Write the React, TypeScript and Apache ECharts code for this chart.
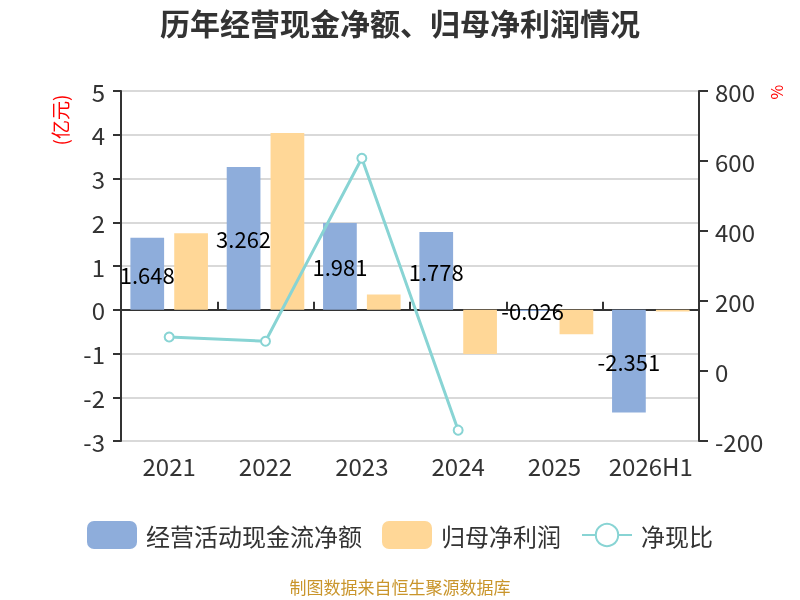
import * as echarts from 'echarts';
import { useEffect, useRef } from 'react';

const years = ['2021', '2022', '2023', '2024', '2025', '2026H1'];
const cashFlow = [1.648, 3.262, 1.981, 1.778, -0.026, -2.351];
const netProfit = [1.75, 4.04, 0.35, -1.01, -0.56, -0.04];
const cashRatio = [97, 85, 608, -169, null, null];

const FONT = 'Noto Sans CJK SC';

const App = () => {
  const chartRef = useRef(null);

  useEffect(() => {
    const chart = echarts.init(chartRef.current, null, { renderer: 'svg' });

    const option = {
      animation: false,
      textStyle: { fontFamily: FONT },
      title: {
        text: '历年经营现金净额、归母净利润情况',
        left: 'center',
        top: 2,
        textStyle: { fontSize: 30, fontWeight: 'bold', color: '#333', fontFamily: FONT },
      },
      legend: {
        bottom: 46,
        left: 'center',
        itemWidth: 50,
        itemHeight: 28,
        itemGap: 20,
        textStyle: { fontSize: 24, color: '#333', fontFamily: FONT, padding: [0, 0, 0, 4] },
        data: [
          { name: '经营活动现金流净额', icon: 'roundRect' },
          { name: '归母净利润', icon: 'roundRect' },
          { name: '净现比' },
        ],
      },
      graphic: [
        {
          type: 'text',
          left: 'center',
          bottom: 5,
          style: {
            text: '制图数据来自恒生聚源数据库',
            fontSize: 17,
            fill: '#c9952b',
            fontFamily: FONT,
          },
        },
        {
          type: 'text',
          x: 59,
          y: 120,
          rotation: Math.PI / 2,
          style: {
            text: '(亿元)',
            fontSize: 19,
            fill: '#ff0000',
            fontFamily: FONT,
            align: 'center',
            verticalAlign: 'middle',
          },
        },
        {
          type: 'text',
          x: 776,
          y: 92,
          rotation: Math.PI / 2,
          style: {
            text: '%',
            fontSize: 16,
            fill: '#ff0000',
            fontFamily: FONT,
            align: 'center',
            verticalAlign: 'middle',
          },
        },
      ],
      grid: { left: 121, right: 101, top: 91, bottom: 159 },
      xAxis: [
        {
          type: 'category',
          data: years,
          position: 'bottom',
          axisLine: { show: false, onZero: false },
          axisTick: { show: false },
          axisLabel: { fontSize: 24, color: '#333', margin: 12, interval: 0 },
        },
        {
          type: 'category',
          data: years,
          axisLine: { show: true, onZero: true, lineStyle: { color: '#333', width: 2 } },
          axisTick: { show: true, length: 8, lineStyle: { color: '#333', width: 2 } },
          axisLabel: { show: false },
        },
      ],
      yAxis: [
        {
          type: 'value',
          min: -3,
          max: 5,
          interval: 1,
          axisLine: { show: true, lineStyle: { color: '#333', width: 2 } },
          axisTick: { show: true, length: 8, lineStyle: { color: '#333', width: 2 } },
          axisLabel: { fontSize: 24, color: '#333', margin: 16 },
          splitLine: { lineStyle: { color: '#ccc', width: 1.5 } },
        },
        {
          type: 'value',
          min: -200,
          max: 800,
          interval: 200,
          axisLine: { show: true, lineStyle: { color: '#333', width: 2 } },
          axisTick: { show: true, length: 9, lineStyle: { color: '#333', width: 2 } },
          axisLabel: { fontSize: 24, color: '#333', margin: 16 },
          splitLine: { show: false },
        },
      ],
      series: [
        {
          name: '经营活动现金流净额',
          type: 'bar',
          data: cashFlow,
          barWidth: '35%',
          barGap: '30%',
          itemStyle: { color: '#8eaddb' },
          label: {
            show: true,
            position: 'inside',
            color: '#000',
            fontSize: 22,
            fontFamily: FONT,
          },
        },
        {
          name: '归母净利润',
          type: 'bar',
          data: netProfit,
          barWidth: '35%',
          itemStyle: { color: '#ffd797' },
        },
        {
          name: '净现比',
          type: 'line',
          yAxisIndex: 1,
          data: cashRatio,
          symbol: 'emptyCircle',
          symbolSize: 9,
          lineStyle: { color: '#88d4d4', width: 3 },
          itemStyle: { color: '#88d4d4', borderWidth: 2 },
        },
      ],
    };

    chart.setOption(option);

    return () => {
      chart.dispose();
    };
  }, []);

  return (
    <div
      ref={chartRef}
      style={{ position: 'fixed', left: 0, top: 0, width: 800, height: 600 }}
    />
  );
};

export default App;
